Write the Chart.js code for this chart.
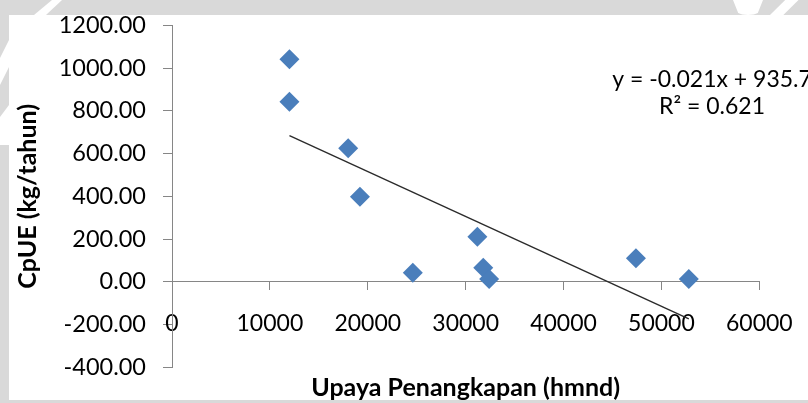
<!DOCTYPE html>
<html>
<head>
<meta charset="utf-8">
<script src="https://cdn.jsdelivr.net/npm/chart.js@4"></script>
<style>
  html, body { margin: 0; padding: 0; background: #d9d9d9; width: 808px; height: 403px; overflow: hidden; }
  #panel { position: absolute; left: 9px; top: 15px; width: 799px; height: 385px; background: #ffffff; }
  .mark { position: absolute; background: #ffffff; }
  #wrap { position: absolute; left: 0; top: 0; width: 808px; height: 403px; }
</style>
</head>
<body>
<!-- faint light strokes of the page backdrop -->
<div class="mark" style="left:22px; top:0; width:40px; height:15px; clip-path: polygon(30% 100%, 75% 0, 100% 0, 60% 100%);"></div>
<div class="mark" style="left:0; top:40px; width:9px; height:45px; clip-path: polygon(0 40%, 100% 0, 100% 60%, 0 100%);"></div>
<div class="mark" style="left:0; top:105px; width:9px; height:40px; clip-path: polygon(0 30%, 100% 0, 100% 100%, 0 100%);"></div>
<div class="mark" style="left:733px; top:0; width:30px; height:15px; border-radius: 0 0 50% 50%; clip-path: polygon(0 0, 100% 0, 80% 100%, 20% 100%);"></div>
<div class="mark" style="left:770px; top:0; width:38px; height:15px; clip-path: polygon(40% 0, 75% 0, 35% 100%, 0 100%);"></div>
<div id="panel"></div>
<div id="wrap"><canvas id="chart" width="808" height="403"></canvas></div>
<script>
// Fishing effort (hmnd) and catch per unit effort (kg/tahun)
const effort = [12000, 12000, 18000, 19200, 24600, 31200, 31800, 32400, 47400, 52800];
const cpue   = [1041, 842.6, 624.6, 398, 42.6, 211, 66, 13, 110, 13];

// Linear trendline reported for the series
const trendSlope = [-0.021];
const trendIntercept = [935.7];
const trendR2 = [0.621];

// Axis ranges and tick steps
const xTicks = [0, 10000, 20000, 30000, 40000, 50000, 60000];
const yTicks = [-400, -200, 0, 200, 400, 600, 800, 1000, 1200];

const points = effort.map((x, i) => ({ x: x, y: cpue[i] }));
const xMinData = Math.min(...effort);
const xMaxData = Math.max(...effort);
const trend = [xMinData, xMaxData].map(x => ({ x: x, y: trendSlope[0] * x + trendIntercept[0] }));

const axisGray = '#868686';
const fontFamily = 'Lato, "Open Sans", sans-serif';

// Trendline equation box drawn inside the plot
const equationLabel = {
  id: 'equationLabel',
  afterDatasetsDraw(chart) {
    const ctx = chart.ctx;
    ctx.save();
    ctx.fillStyle = '#000';
    ctx.font = '23px ' + fontFamily;
    ctx.textAlign = 'center';
    ctx.textBaseline = 'middle';
    const cx = 712;
    ctx.fillText('y = ' + trendSlope[0] + 'x + ' + trendIntercept[0], cx, 80);
    ctx.fillText('R\u00B2 = ' + trendR2[0], cx, 107);
    ctx.restore();
  }
};

new Chart(document.getElementById('chart'), {
  type: 'scatter',
  data: {
    datasets: [
      {
        label: 'Trendline',
        type: 'line',
        data: trend,
        borderColor: '#2b2b2b',
        borderWidth: 1.4,
        pointRadius: 0,
        fill: false,
        order: 0
      },
      {
        label: 'CpUE',
        data: points,
        pointStyle: 'rectRot',
        pointRadius: 10,
        pointHoverRadius: 10,
        backgroundColor: '#4a7ebb',
        borderColor: '#4a7ebb',
        borderWidth: 0,
        order: 1
      }
    ]
  },
  options: {
    responsive: false,
    animation: false,
    events: [],
    layout: { padding: { left: 0, right: 48.7, top: 25.3, bottom: 1.5 } },
    plugins: {
      legend: { display: false },
      tooltip: { enabled: false },
      title: {
        display: true,
        position: 'bottom',
        fullSize: false,
        text: 'Upaya Penangkapan (hmnd)',
        color: '#000',
        font: { family: fontFamily, size: 25, weight: 'bold', lineHeight: 1.1 },
        padding: { top: 6.7, bottom: 0 }
      }
    },
    scales: {
      x: {
        type: 'linear',
        position: { y: 0 },
        min: xTicks[0],
        max: xTicks[xTicks.length - 1],
        afterBuildTicks(scale) { scale.ticks = xTicks.map(v => ({ value: v })); },
        afterFit(scale) { scale.paddingLeft = 0; scale.paddingRight = 0; },
        ticks: {
          autoSkip: false,
          maxRotation: 0,
          padding: 20,
          color: '#000',
          font: { family: fontFamily, size: 23 },
          callback: v => String(v)
        },
        grid: { drawOnChartArea: false, drawTicks: true, tickLength: 8, color: axisGray, lineWidth: 1 },
        border: { display: true, color: axisGray, width: 1 }
      },
      y: {
        type: 'linear',
        position: 'left',
        min: yTicks[0],
        max: yTicks[yTicks.length - 1],
        afterBuildTicks(scale) { scale.ticks = yTicks.map(v => ({ value: v })); },
        afterFit(scale) { scale.width = 172; scale.paddingTop = 0; scale.paddingBottom = 0; },
        ticks: {
          autoSkip: false,
          padding: 17,
          color: '#000',
          font: { family: fontFamily, size: 23.5 },
          callback: v => Number(v).toFixed(2)
        },
        grid: { drawOnChartArea: false, drawTicks: true, tickLength: 9, color: axisGray, lineWidth: 1 },
        border: { display: true, color: axisGray, width: 1 },
        title: {
          display: true,
          text: 'CpUE (kg/tahun)',
          color: '#000',
          font: { family: fontFamily, size: 25, weight: 'bold', lineHeight: 1.1 },
          padding: { top: 14.5, bottom: 0 }
        }
      }
    }
  },
  plugins: [equationLabel]
});
</script>
</body>
</html>
